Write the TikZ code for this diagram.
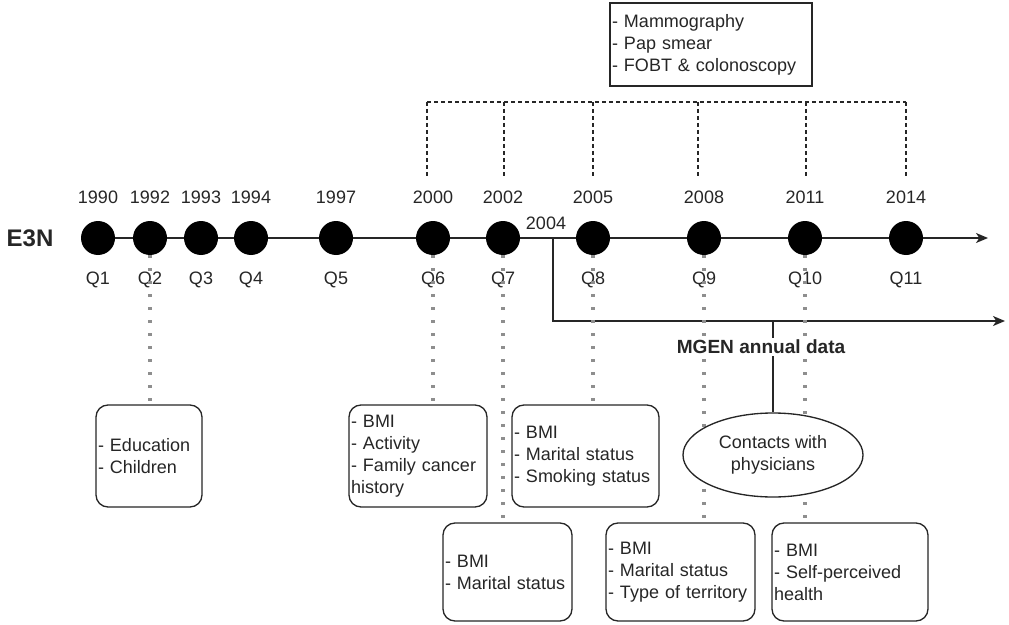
\documentclass[tikz,border=0pt]{standalone}
\usepackage{fontspec}
\setmainfont{Liberation Sans}
\usetikzlibrary{arrows.meta,shapes.geometric}
\definecolor{txt}{HTML}{262626}
\definecolor{dotgray}{HTML}{8E8E8E}
\begin{document}
\begin{tikzpicture}[x=0.75pt,y=-0.75pt,
  every node/.style={text=txt, font=\fontsize{13.5}{16.5}\selectfont},
  qdot/.style={circle, fill=black, draw=none, minimum size=25.5pt, inner sep=0pt},
  infobox/.style={draw=txt, line width=1pt, rounded corners=9pt, fill=white, align=left, inner xsep=1.5pt, inner ysep=0pt},
  dotline/.style={draw=dotgray, line width=2.4pt, dash pattern=on 2.4pt off 7.35pt},
  dashline/.style={draw=txt, line width=1pt, dash pattern=on 3pt off 2.25pt},
  axis/.style={draw=txt, line width=1.1pt, -{Stealth[length=9pt,width=7.5pt,inset=2.5pt]}},
  plain/.style={draw=txt, line width=1.1pt},
]
\useasboundingbox (0,0) rectangle (1009,624);

% timeline axes
\coordinate (tlend) at (988,238);
\coordinate (j) at (553,238);
\coordinate (mgend) at (1005,321);
\draw[axis] (98,238) coordinate (tlstart) -- (tlend);
\draw[axis] (j) |- (mgend);

% circles, years, questionnaires
\foreach \x/\yr/\i in {98/1990/1,150/1992/2,201/1993/3,251/1994/4,336/1997/5,433/2000/6,503/2002/7,593/2005/8,704/2008/9,805/2011/10,906/2014/11} {
  \node[qdot] (q\i) at (\x,238) {};
  \node (yr\i) at (\x,197) {\yr};
  \node (ql\i) at (\x,280) {Q\i};
}
\node[font=\bfseries\fontsize{18}{21}\selectfont] (e3n) at (30,238) {E3N};
\node (y2004) at (546,223) {2004};

% boxes
\node[infobox, text width=76.5pt, minimum height=76.5pt] (edu) at (149,456) {- Education\\- Children};
\node[infobox, text width=100.5pt, minimum height=76.5pt] (fam) at (418,456) {- BMI\\- Activity\\- Family cancer\\history};
\node[infobox, text width=107.25pt, minimum height=76.5pt] (smk) at (585.5,456) {- BMI\\- Marital status\\- Smoking status};
\node[infobox, text width=93.75pt, minimum height=73.5pt] (mar) at (507.5,572) {- BMI\\- Marital status};
\node[infobox, text width=108.75pt, minimum height=73.5pt] (ter) at (680.5,572) {- BMI\\- Marital status\\- Type of territory};
\node[infobox, text width=114pt, minimum height=73.5pt] (hlt) at (850,572) {- BMI\\- Self-perceived\\health};

% dotted connectors
\draw[dotline] (q2.south) -- (q2.south |- edu.north);
\draw[dotline] (q6.south) -- (q6.south |- fam.north);
\draw[dotline] (q7.south) -- (q7.south |- mar.north);
\draw[dotline] (q8.south) -- (q8.south |- smk.north);
\draw[dotline] (q9.south) -- (q9.south |- ter.north);
\draw[dotline] (q10.south) -- (q10.south |- hlt.north);

% MGEN contacts
\node[ellipse, draw=txt, line width=1pt, fill=white, minimum width=135pt, minimum height=63pt, inner sep=0pt, align=center] (phys) at (773,455) {Contacts with\\physicians};
\coordinate (mgtap) at (773,321);
\draw[plain] (mgtap) -- (phys.north);
\node[fill=white, inner sep=1.5pt, font=\bfseries\fontsize{14.3}{17}\selectfont] (mgen) at (761,347) {MGEN annual data};

% screening box
\node[draw=txt, line width=1.4pt, fill=white, align=left, text width=148.5pt, minimum height=62.25pt, inner xsep=1.5pt, inner ysep=0pt] (scr) at (711,44.5) {- Mammography\\- Pap smear\\- FOBT \& colonoscopy};

% dashed bracket
\foreach \x [count=\i] in {427,504,593,698,806,906} {
  \coordinate (dt\i) at (\x,102);
  \coordinate (db\i) at (\x,178);
  \draw[dashline] (dt\i) -- (db\i);
}
\draw[dashline] (dt1) -- (dt6);
\end{tikzpicture}
\end{document}
